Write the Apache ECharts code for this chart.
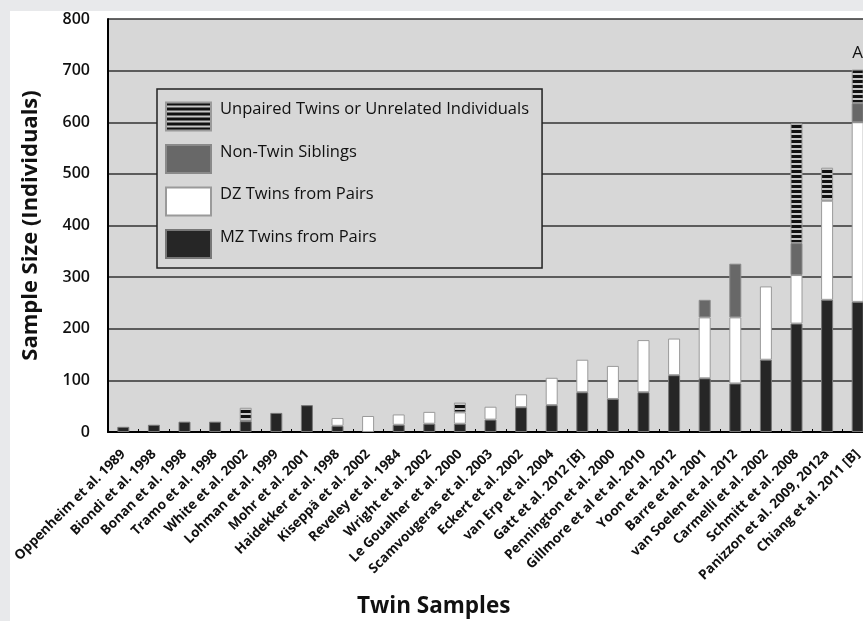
<!DOCTYPE html>
<html>
<head>
<meta charset="utf-8">
<script src="https://cdn.jsdelivr.net/npm/echarts@6/dist/echarts.min.js"></script>
<style>
  html, body { margin: 0; padding: 0; }
  #wrap { position: relative; width: 863px; height: 621px; background: #e8e9eb; overflow: hidden; }
  #panel { position: absolute; left: 10px; top: 11px; width: 853px; height: 610px; background: #ffffff; }
  #chart { position: absolute; left: 0; top: 0; width: 873px; height: 621px; }
</style>
</head>
<body>
<div id="wrap"><div id="panel"></div><div id="chart"></div></div>
<script>
const categories = [
  'Oppenheim et al. 1989', 'Biondi et al. 1998', 'Bonan et al. 1998', 'Tramo et al. 1998',
  'White et al. 2002', 'Lohman et al. 1999', 'Mohr et al. 2001', 'Haidekker et al. 1998',
  'Kiseppä et al. 2002', 'Reveley et al. 1984', 'Wright et al. 2002', 'Le Goualher et al. 2000',
  'Scamvougeras et al. 2003', 'Eckert et al. 2002', 'van Erp et al. 2004', 'Gatt et al. 2012 [B]',
  'Pennington et al. 2000', 'Gillmore et al et al. 2010', 'Yoon et al. 2012', 'Barre et al. 2001',
  'van Soelen et al. 2012', 'Carmelli et al. 2002', 'Schmitt et al. 2008',
  'Panizzon et al. 2009, 2012a', 'Chiang et al. 2011 [B]'
];
const mzTwins    = [10, 14, 20, 20, 21, 37, 52, 12, 0, 14, 16, 16, 24, 48, 52, 77, 64, 77, 110, 104, 94, 140, 210, 256, 252];
const dzTwins    = [0, 0, 0, 0, 0, 0, 0, 15, 31, 20, 23, 22, 25, 25, 53, 63, 64, 101, 71, 118, 128, 142, 94, 192, 348];
const siblings   = [0, 0, 0, 0, 0, 0, 0, 0, 0, 0, 0, 0, 0, 0, 0, 0, 0, 0, 0, 34, 104, 0, 62, 0, 37];
const unpaired   = [0, 0, 0, 0, 26, 0, 0, 0, 0, 0, 0, 19, 0, 0, 0, 0, 0, 0, 0, 0, 0, 0, 232, 64, 65];
const yTicks = [0, 100, 200, 300, 400, 500, 600, 700, 800];
const seriesNames = ['MZ Twins from Pairs', 'DZ Twins from Pairs', 'Non-Twin Siblings', 'Unpaired Twins or Unrelated Individuals'];
const topNote = 'A';

// stripe pattern for unpaired
const pat = document.createElement('canvas');
pat.width = 8; pat.height = 5;
const pctx = pat.getContext('2d');
pctx.fillStyle = '#c8c8c8'; pctx.fillRect(0, 0, 8, 5);
pctx.fillStyle = '#111111'; pctx.fillRect(0, 0, 8, 3);

const clean = arr => arr.map(v => (v === 0 ? null : v));
const FONT = 'Open Sans';

const chart = echarts.init(document.getElementById('chart'), null, { renderer: 'canvas' });

const unpairedData = clean(unpaired).map((v, i) => {
  if (i === categories.length - 1) {
    return { value: v, label: { show: true, position: 'top', distance: 8, formatter: topNote, fontSize: 17, fontFamily: FONT, color: '#111' } };
  }
  return v;
});

const barCommon = { type: 'bar', stack: 'total', barWidth: 12 };

chart.setOption({
  animation: false,
  grid: { left: 108, right: 0, top: 19, bottom: 189, show: true, backgroundColor: '#d7d7d7', borderWidth: 0 },
  legend: {
    orient: 'vertical', left: 157, top: 89,
    data: [seriesNames[3], seriesNames[2], seriesNames[1], seriesNames[0]],
    itemWidth: 45, itemHeight: 28, itemGap: 12,
    padding: [12, 13, 9, 8],
    backgroundColor: '#d7d7d7', borderColor: '#222', borderWidth: 1.5,
    formatter: name => '{a|' + name + '}\n{b|}',
    textStyle: {
      fontFamily: FONT, fontSize: 16.5, color: '#111',
      rich: {
        a: { fontFamily: FONT, fontSize: 16.5, color: '#111', lineHeight: 20, padding: [0, 0, 0, 4] },
        b: { lineHeight: 14, fontSize: 10 }
      }
    },
    icon: 'rect', selectedMode: false
  },
  xAxis: {
    type: 'category', data: categories,
    axisLine: { lineStyle: { color: '#000', width: 2 } },
    axisTick: { show: true, inside: true, length: 3, lineStyle: { color: '#000' } },
    axisLabel: { interval: 0, rotate: 45, fontFamily: FONT, fontSize: 13.5, fontWeight: 'bold', color: '#111', margin: 20 }
  },
  yAxis: {
    type: 'value', min: yTicks[0], max: yTicks[yTicks.length - 1], interval: 100,
    name: 'Sample Size (Individuals)', nameLocation: 'middle', nameGap: 66,
    nameTextStyle: { fontFamily: FONT, fontSize: 22, fontWeight: 'bold', color: '#111' },
    axisLine: { show: true, lineStyle: { color: '#000', width: 2 } },
    axisTick: { show: false },
    axisLabel: { fontFamily: FONT, fontSize: 16, fontWeight: 600, color: '#111', margin: 18 },
    splitLine: { lineStyle: { color: '#333', width: 1.5 } }
  },
  graphic: [{
    type: 'text', left: 357, top: 595,
    style: { text: 'Twin Samples', font: 'bold 22.5px "Open Sans"', fill: '#111' }
  }],
  series: [
    Object.assign({}, barCommon, { name: seriesNames[0], data: clean(mzTwins), itemStyle: { color: '#262626', borderColor: '#777', borderWidth: 1 } }),
    Object.assign({}, barCommon, { name: seriesNames[1], data: clean(dzTwins), itemStyle: { color: '#ffffff', borderColor: '#9a9a9a', borderWidth: 1 } }),
    Object.assign({}, barCommon, { name: seriesNames[2], data: clean(siblings), itemStyle: { color: '#686868', borderColor: '#8a8a8a', borderWidth: 1 } }),
    Object.assign({}, barCommon, { name: seriesNames[3], data: unpairedData, itemStyle: { color: { image: pat, repeat: 'repeat' }, borderColor: '#9a9a9a', borderWidth: 1 } })
  ]
});
</script>
</body>
</html>
